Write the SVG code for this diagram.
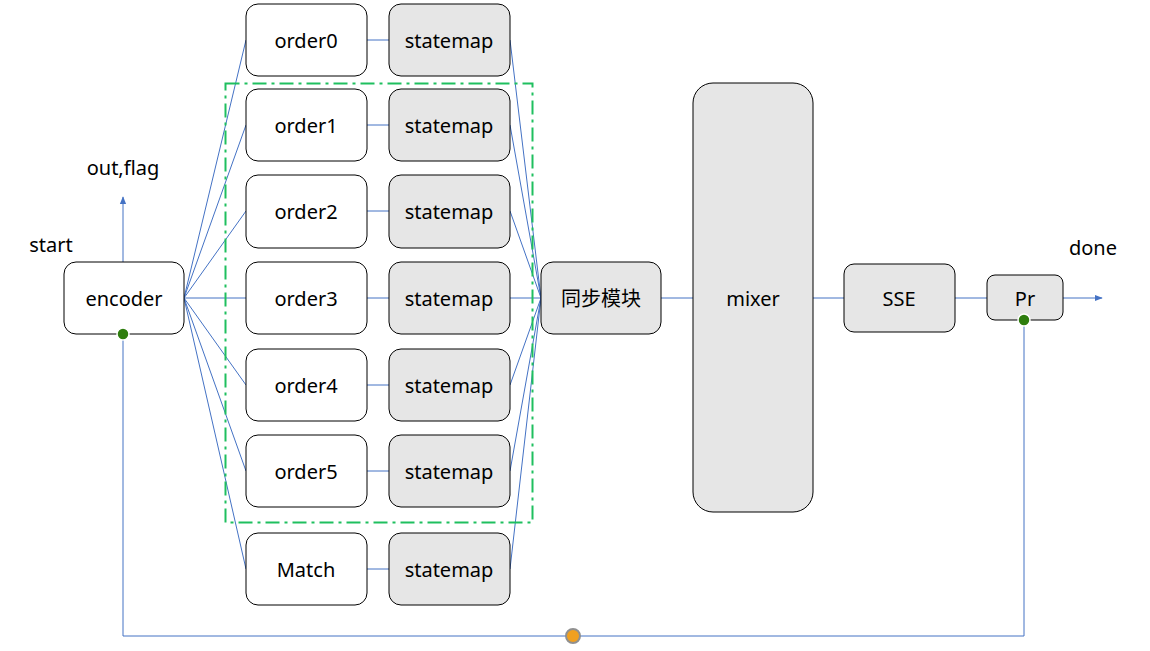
<svg xmlns="http://www.w3.org/2000/svg" width="1150" height="651" viewBox="0 0 1150 651">
<style>
.w{fill:#fff;stroke:#000;stroke-width:1}
.g{fill:#e6e6e6;stroke:#000;stroke-width:1}
.t{font-family:"Noto Sans","Noto Sans CJK SC",sans-serif;font-size:20px;fill:#000;text-anchor:middle;dominant-baseline:central}
.c{stroke:#4472c4;stroke-width:1;fill:none}
</style>
<defs>
<marker id="ah" viewBox="0 0 10 10" refX="9" refY="5" markerWidth="8" markerHeight="8" markerUnits="userSpaceOnUse" orient="auto"><path d="M0,1 L10,5 L0,9 Z" fill="#4472c4"/></marker>
</defs>
<rect width="1150" height="651" fill="#fff"/>
<g id="connectors">
<line class="c" x1="123" y1="262" x2="123" y2="197" marker-end="url(#ah)"/>
<path class="c" d="M184,298 L246,40 M184,298 L246,125 M184,298 L246,211 M184,298 L246,298 M184,298 L246,385 M184,298 L246,471 M184,298 L246,569"/>
<path class="c" d="M367,40 H389 M367,125 H389 M367,211 H389 M367,298 H389 M367,385 H389 M367,471 H389 M367,569 H389"/>
<path class="c" d="M510,40 L541,298 M510,125 L541,298 M510,211 L541,298 M510,298 L541,298 M510,385 L541,298 M510,471 L541,298 M510,569 L541,298"/>
<path class="c" d="M661,298 H693 M813,298 H844 M955,298 H987"/>
<line class="c" x1="1063" y1="298" x2="1102" y2="298" marker-end="url(#ah)"/>
<path class="c" d="M1024,320 V636 H123 V334"/>
</g>
<rect x="225.5" y="83.5" width="307" height="439" fill="none" stroke="#1fbf5f" stroke-width="2" stroke-dasharray="14,5,3,5"/>
<g id="encoder"><rect class="w" x="64" y="262" width="120" height="72" rx="12"/><text class="t" x="124" y="298">encoder</text></g>
<g id="order0"><rect class="w" x="246" y="4" width="121" height="72" rx="12"/><text class="t" x="306" y="40">order0</text></g>
<g id="order1"><rect class="w" x="246" y="89" width="121" height="72" rx="12"/><text class="t" x="306" y="125">order1</text></g>
<g id="order2"><rect class="w" x="246" y="175" width="121" height="73" rx="12"/><text class="t" x="306" y="211">order2</text></g>
<g id="order3"><rect class="w" x="246" y="262" width="121" height="72" rx="12"/><text class="t" x="306" y="298">order3</text></g>
<g id="order4"><rect class="w" x="246" y="349" width="121" height="72" rx="12"/><text class="t" x="306" y="385">order4</text></g>
<g id="order5"><rect class="w" x="246" y="435" width="121" height="72" rx="12"/><text class="t" x="306" y="471">order5</text></g>
<g id="match"><rect class="w" x="246" y="533" width="121" height="72" rx="12"/><text class="t" x="306" y="569">Match</text></g>
<g id="statemap0"><rect class="g" x="389" y="4" width="121" height="72" rx="12"/><text class="t" x="449" y="40">statemap</text></g>
<g id="statemap1"><rect class="g" x="389" y="89" width="121" height="72" rx="12"/><text class="t" x="449" y="125">statemap</text></g>
<g id="statemap2"><rect class="g" x="389" y="175" width="121" height="73" rx="12"/><text class="t" x="449" y="211">statemap</text></g>
<g id="statemap3"><rect class="g" x="389" y="262" width="121" height="72" rx="12"/><text class="t" x="449" y="298">statemap</text></g>
<g id="statemap4"><rect class="g" x="389" y="349" width="121" height="72" rx="12"/><text class="t" x="449" y="385">statemap</text></g>
<g id="statemap5"><rect class="g" x="389" y="435" width="121" height="72" rx="12"/><text class="t" x="449" y="471">statemap</text></g>
<g id="statemap6"><rect class="g" x="389" y="533" width="121" height="72" rx="12"/><text class="t" x="449" y="569">statemap</text></g>
<g id="sync"><rect class="g" x="541" y="262" width="120" height="72" rx="12"/><text class="t" x="601" y="298">同步模块</text></g>
<g id="mixer"><rect class="g" x="693" y="83" width="120" height="429" rx="20"/><text class="t" x="753" y="298">mixer</text></g>
<g id="sse"><rect class="g" x="844" y="264" width="111" height="68" rx="10"/><text class="t" x="899" y="298">SSE</text></g>
<g id="pr"><rect class="g" x="987" y="275" width="76" height="45" rx="8"/><text class="t" x="1025" y="298">Pr</text></g>
<g id="labels">
<text class="t" x="123" y="167">out,flag</text>
<text class="t" x="51" y="244">start</text>
<text class="t" x="1093" y="247">done</text>
</g>
<g id="dots">
<circle cx="123" cy="334" r="6" fill="#2e7d0e" stroke="#fff" stroke-width="1.5"/>
<circle cx="1024" cy="320" r="6" fill="#2e7d0e" stroke="#fff" stroke-width="1.5"/>
<circle cx="573" cy="636" r="7" fill="#f0a020" stroke="#909090" stroke-width="2"/>
</g>
</svg>
